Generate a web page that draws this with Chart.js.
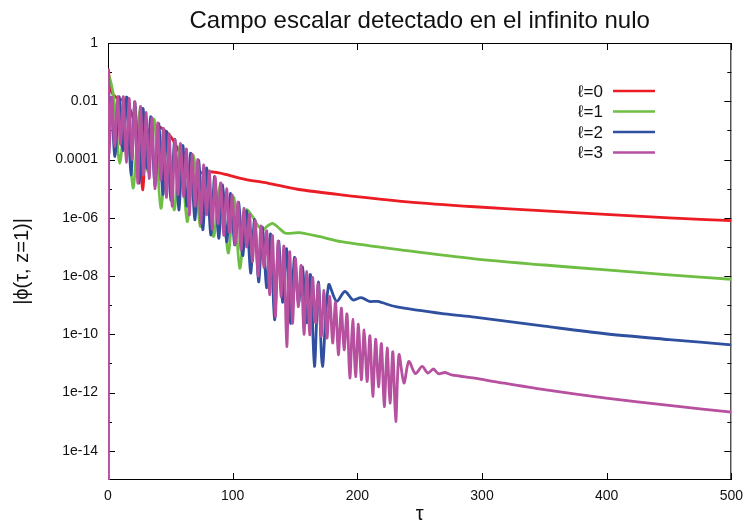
<!DOCTYPE html>
<html>
<head>
<meta charset="utf-8">
<title>Campo escalar detectado en el infinito nulo</title>
<script src="https://cdn.jsdelivr.net/npm/chart.js@4.4.1/dist/chart.umd.min.js"></script>
<style>
  html, body { margin: 0; padding: 0; background: #fff; }
  #wrap { width: 751px; height: 525px; }
</style>
</head>
<body>
<div id="wrap"><canvas id="chart" width="751" height="525"></canvas></div>
<script>
// |phi(tau, z=1)| at null infinity, one series per multipole l.
// Values are given as log10|phi| and converted when the datasets are built.

const tauL0 = [0, 0.4, 2, 6, 13, 18, 22, 25, 28, 30, 33, 38, 44, 50, 55, 59, 62, 64, 66, 70, 75, 81, 88, 96, 110, 128, 152, 187, 240, 294, 350, 399, 450, 500];
const logPhiL0 = [-16, -0.95, -1.6, -1.85, -2.0, -2.3, -2.9, -3.6, -5.04, -3.5, -3.0, -2.85, -2.95, -3.2, -3.55, -3.95, -4.29, -4.59, -4.70, -4.55, -4.45, -4.42, -4.45, -4.53, -4.68, -4.81, -5.02, -5.21, -5.45, -5.62, -5.76, -5.88, -6.00, -6.10];

const tauL1 = [0, 0.4, 4.5, 9.5, 14.7, 20, 26, 31.9, 37, 42.4, 47.7, 53, 58.2, 63.5, 68.8, 74, 79.3, 84.6, 90.5, 96.4, 101, 105.7, 111, 116, 120, 124, 128, 132, 137, 142.5, 153, 169, 187, 240, 294, 350, 399.5, 450, 500];
const logPhiL1 = [-16, -1.15, -1.84, -4.13, -1.86, -4.98, -2.20, -4.41, -2.62, -5.67, -3.07, -5.73, -3.47, -6.13, -3.87, -6.30, -4.30, -6.64, -4.83, -7.21, -5.30, -7.73, -5.73, -5.96, -6.25, -6.41, -6.28, -6.19, -6.35, -6.53, -6.51, -6.64, -6.82, -7.13, -7.41, -7.62, -7.79, -7.96, -8.11];

const tauL2 = [0, 0.4, 1.2, 2.4, 5.6, 8.8, 12, 15.2, 18.4, 21.6, 24.8, 28, 31.2, 34.4, 37.6, 40.8, 44, 47.2, 50.4, 53.6, 56.8, 60, 63.2, 66.4, 69.6, 72.8, 76, 79.2, 82.4, 85.6, 88.8, 92, 95.2, 98.4, 101.6, 104.8, 108, 111.2, 114.4, 117.6, 120.8, 124, 127.2, 130.4, 133.6, 136.8, 140, 143.2, 146.4, 149.6, 152.8, 156, 159.2, 162.4, 165.6, 168.8, 172, 177, 183.4, 190, 196.6, 203, 209.7, 216.3, 230.8, 270, 294, 350, 399, 450, 500];
const logPhiL2 = [-16, -1.05, -2.6, -1.88, -3.9, -1.84, -3.7, -1.86, -4.53, -2.02, -4.81, -2.25, -4.3, -2.53, -4.9, -2.77, -5.2, -3.04, -5.4, -3.30, -5.73, -3.52, -5.6, -3.78, -6.07, -4.03, -6.41, -4.29, -6.59, -4.58, -6.70, -4.87, -6.82, -5.16, -6.93, -5.47, -7.3, -5.77, -7.9, -6.06, -8.2, -6.32, -8.4, -6.56, -9.5, -6.80, -8.9, -7.06, -9.62, -7.36, -8.93, -7.69, -9.6, -7.95, -11.1, -8.20, -11.1, -8.30, -8.87, -8.53, -8.82, -8.74, -8.87, -8.87, -9.05, -9.30, -9.41, -9.72, -9.98, -10.18, -10.36];

const tauL3 = [0, 0.4, 0.8, 3.1, 5.4, 7.7, 10.0, 12.3, 14.6, 16.9, 19.2, 21.5, 23.8, 26.1, 28.4, 30.7, 33.0, 35.3, 37.6, 39.9, 42.2, 44.5, 46.8, 49.1, 51.4, 53.7, 56.0, 58.3, 60.6, 62.9, 65.2, 67.5, 69.8, 72.1, 74.4, 76.7, 79.0, 81.3, 83.6, 85.9, 88.2, 90.5, 92.8, 95.1, 97.4, 99.7, 102.0, 104.3, 106.6, 108.9, 111.2, 113.5, 115.8, 118.1, 120.4, 122.7, 125.0, 127.3, 129.6, 131.9, 134.2, 136.5, 138.8, 141.1, 143.4, 145.7, 148.0, 150.3, 152.6, 154.9, 157.2, 159.5, 161.8, 164.1, 166.4, 168.7, 171.0, 173.3, 175.6, 177.9, 180.2, 182.5, 184.8, 187.1, 189.4, 191.7, 194.0, 196.3, 198.6, 200.9, 203.2, 205.5, 207.8, 210.1, 212.4, 214.7, 217.0, 219.3, 221.6, 223.9, 226.2, 228.5, 230.8, 233.4, 237.4, 241.3, 246.6, 252, 256.6, 261, 265, 270.4, 275.6, 294, 310, 350, 399.5, 450, 500];
const logPhiL3 = [-16, -1.0, -3.8, -1.85, -3.56, -1.84, -3.5, -1.84, -4.1, -1.90, -4.0, -2.02, -4.81, -2.18, -4.53, -2.38, -4.65, -2.57, -5.0, -2.74, -4.7, -2.93, -5.3, -3.12, -5.6, -3.32, -5.2, -3.45, -5.27, -3.64, -5.9, -3.82, -5.6, -4.00, -6.2, -4.19, -5.9, -4.39, -6.4, -4.60, -6.2, -4.80, -6.6, -5.00, -6.5, -5.22, -6.9, -5.46, -7.1, -5.67, -7.0, -5.88, -7.5, -6.09, -8.0, -6.28, -7.7, -6.45, -8.64, -6.61, -9.39, -6.80, -8.7, -6.98, -10.42, -7.17, -9.62, -7.40, -9.05, -7.64, -10.0, -7.84, -10.02, -8.05, -9.6, -8.27, -10.07, -8.49, -10.13, -8.70, -10.30, -8.90, -10.70, -9.10, -10.53, -9.30, -11.50, -9.49, -11.45, -9.65, -11.56, -9.85, -11.62, -10.05, -12.13, -10.17, -11.80, -10.32, -12.48, -10.47, -12.36, -10.60, -12.99, -10.70, -11.67, -10.93, -11.35, -11.10, -11.33, -11.19, -11.35, -11.31, -11.39, -11.50, -11.62, -11.90, -12.19, -12.44, -12.67];

const seriesLabels = ["ℓ=0", "ℓ=1", "ℓ=2", "ℓ=3"];
const seriesColors = ["#ec1c24", "#6fbe44", "#2f4f9f", "#b6509f"];

const xTickValues = [0, 100, 200, 300, 400, 500];
const yTickValues = [1, 1e-2, 1e-4, 1e-6, 1e-8, 1e-10, 1e-12, 1e-14];
const yTickLabels = ["1", "0.01", "0.0001", "1e-06", "1e-08", "1e-10", "1e-12", "1e-14"];
const yMinorValues = [1e-1, 1e-3, 1e-5, 1e-7, 1e-9, 1e-11, 1e-13];

const FONT = '"Liberation Sans", Arial, Helvetica, sans-serif';

function toPoints(tau, logPhi) {
  return tau.map((t, i) => ({ x: t, y: Math.pow(10, logPhi[i]) }));
}

const series = [
  toPoints(tauL0, logPhiL0),
  toPoints(tauL1, logPhiL1),
  toPoints(tauL2, logPhiL2),
  toPoints(tauL3, logPhiL3)
];

// border, inward ticks, titles and the gnuplot-style key
const gnuplotFrame = {
  id: "gnuplotFrame",
  beforeDatasetsDraw(chart) {
    const { ctx, chartArea: a, scales: { x, y } } = chart;
    ctx.save();
    ctx.strokeStyle = "#000";
    ctx.lineWidth = 1;
    ctx.strokeRect(a.left + 0.5, a.top + 0.5, a.right - a.left - 1, a.bottom - a.top - 1);

    ctx.beginPath();
    xTickValues.forEach(v => {
      const px = Math.round(x.getPixelForValue(v)) + 0.5;
      ctx.moveTo(px, a.bottom); ctx.lineTo(px, a.bottom - 7);
      ctx.moveTo(px, a.top); ctx.lineTo(px, a.top + 7);
    });
    yTickValues.forEach(v => {
      const py = Math.round(y.getPixelForValue(v)) + 0.5;
      ctx.moveTo(a.left, py); ctx.lineTo(a.left + 7, py);
      ctx.moveTo(a.right, py); ctx.lineTo(a.right - 7, py);
    });
    yMinorValues.forEach(v => {
      const py = Math.round(y.getPixelForValue(v)) + 0.5;
      ctx.moveTo(a.left, py); ctx.lineTo(a.left + 4, py);
      ctx.moveTo(a.right, py); ctx.lineTo(a.right - 4, py);
    });
    ctx.stroke();
    ctx.restore();
  },
  afterDraw(chart) {
    const { ctx, chartArea: a } = chart;
    const cx = (a.left + a.right) / 2;
    ctx.save();
    ctx.fillStyle = "#111";

    ctx.font = "24px " + FONT;
    ctx.textAlign = "center";
    ctx.textBaseline = "alphabetic";
    ctx.fillText("Campo escalar detectado en el infinito nulo", cx, 28);

    ctx.font = "20px " + FONT;
    ctx.textBaseline = "middle";
    ctx.fillText("τ", cx, 514);

    ctx.save();
    ctx.translate(22, (a.top + a.bottom) / 2);
    ctx.rotate(-Math.PI / 2);
    ctx.fillText("|ϕ(τ, z=1)|", 0, 0);
    ctx.restore();

    // key
    ctx.font = "17px " + FONT;
    ctx.textAlign = "right";
    const keyY = [91, 111.5, 132, 152.5];
    chart.data.datasets.forEach((ds, i) => {
      ctx.fillStyle = "#111";
      ctx.fillText(ds.label, 603, keyY[i] + 1);
      ctx.strokeStyle = ds.borderColor;
      ctx.lineWidth = 2.5;
      ctx.beginPath();
      ctx.moveTo(613, keyY[i]);
      ctx.lineTo(655, keyY[i]);
      ctx.stroke();
    });
    ctx.restore();
  }
};

new Chart(document.getElementById("chart"), {
  type: "line",
  data: {
    datasets: series.map((pts, i) => ({
      label: seriesLabels[i],
      data: pts,
      borderColor: seriesColors[i],
      borderWidth: 2.8,
      order: 3 - i
    }))
  },
  options: {
    responsive: false,
    animation: false,
    events: [],
    parsing: false,
    layout: { padding: { top: 43, right: 12, left: 0, bottom: 0 } },
    elements: {
      point: { radius: 0 },
      line: { tension: 0.3, borderJoinStyle: "round", borderCapStyle: "round" }
    },
    plugins: {
      legend: { display: false },
      tooltip: { enabled: false },
      title: { display: false }
    },
    scales: {
      x: {
        type: "linear",
        min: 0,
        max: 500,
        grid: { display: false, drawTicks: false },
        border: { display: false },
        afterBuildTicks: s => { s.ticks = xTickValues.map(v => ({ value: v })); },
        ticks: { padding: 8, color: "#111", maxRotation: 0, autoSkip: false, font: { family: FONT, size: 14 } },
        afterFit: s => { s.height = 45; }
      },
      y: {
        type: "logarithmic",
        min: 1e-15,
        max: 1,
        grid: { display: false, drawTicks: false },
        border: { display: false },
        afterBuildTicks: s => { s.ticks = yTickValues.map(v => ({ value: v })); },
        ticks: {
          padding: 10,
          color: "#111",
          autoSkip: false,
          font: { family: FONT, size: 14 },
          callback: (v, i) => yTickLabels[i]
        },
        afterFit: s => { s.width = 108; }
      }
    }
  },
  plugins: [gnuplotFrame]
});
</script>
</body>
</html>
